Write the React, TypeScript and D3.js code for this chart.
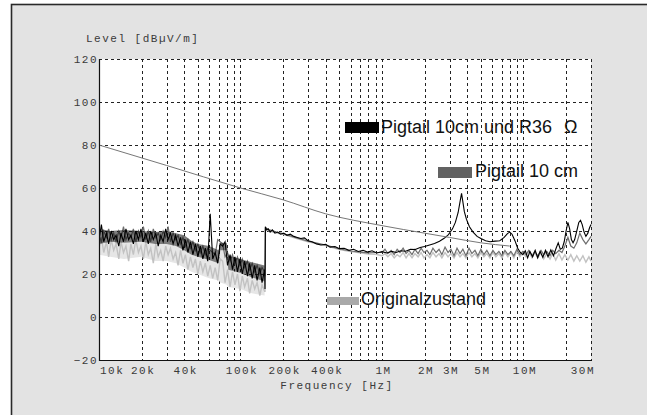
import React, { useEffect, useRef } from 'react';
import * as d3 from 'd3';

const W = 647;
const H = 415;

// frequencies in kHz, levels in dBµV/m
const yTicks = [-20, 0, 20, 40, 60, 80, 100, 120];
const xTickFreqs = [10, 20, 40, 100, 200, 400, 1000, 2000, 3000, 5000, 10000, 30000];
const xTickLabels = ['10k', '20k', '40k', '100k', '200k', '400k', '1M', '2M', '3M', '5M', '10M', '30M'];

// sweep points below 150 kHz (shared by the three measurements)
const lfFreq = [10, 10.4, 10.8, 11.3, 11.7, 12.2, 12.7, 13.2, 13.8, 14.3, 14.9, 15.5, 16.2, 16.8, 17.5, 18.2, 19, 19.8,
  20.6, 21.4, 22.3, 23.2, 24.2, 25.2, 26.2, 27.3, 28.4, 29.6, 30.8, 32, 33.4, 34.8, 36.2, 37.7, 39.2, 40.8, 42.5, 44.3,
  46.1, 48, 50, 52, 54.2, 56.4, 58.7, 61.1, 63.6, 66.2, 69, 71.8, 74.8, 77.8, 81, 84.4, 87.8, 91.4, 95.2, 99.1, 103, 107,
  112, 116, 121, 126, 131, 137, 142, 148];

const blackLF = [36, 43, 35, 39, 34, 40, 36, 38, 33, 39, 35, 41, 36, 38, 34, 40, 36, 41, 35, 39, 34, 40, 36, 39, 33, 38,
  35, 41, 36, 39, 34, 38, 33, 37, 31, 36, 30, 35, 29, 34, 28, 33, 27, 32, 26, 48, 27, 30, 25, 34, 33, 35, 24, 29, 22, 28,
  21, 27, 20, 26, 19, 25, 18, 24, 17, 23, 16, 22];
const darkLF = [38, 35, 40, 37, 41, 36, 39, 35, 40, 37, 42, 36, 39, 37, 41, 35, 40, 37, 42, 36, 40, 35, 41, 37, 39, 36,
  40, 37, 42, 35, 39, 36, 38, 34, 37, 33, 36, 32, 35, 31, 34, 30, 33, 29, 32, 31, 30, 29, 36, 35, 34, 28, 30, 26, 29, 25,
  28, 24, 27, 23, 26, 22, 25, 21, 24, 20, 23, 21];
const lightLF = [32, 37, 30, 35, 28, 36, 31, 34, 27, 35, 30, 33, 26, 34, 29, 36, 30, 33, 27, 35, 29, 32, 25, 34, 28, 31,
  26, 33, 29, 32, 27, 30, 24, 31, 25, 29, 22, 28, 23, 27, 20, 26, 21, 25, 19, 24, 18, 23, 17, 27, 26, 16, 22, 14, 21, 15,
  20, 12, 19, 14, 18, 11, 17, 13, 16, 10, 15, 12];

// noise envelopes below 150 kHz
const bandFreq = [10, 12, 15, 20, 25, 30, 35, 40, 45, 50, 60, 70, 72, 80, 82, 100, 120, 148];
const blackHigh = [41, 40, 40.5, 40, 39.5, 40, 39, 38, 35.5, 34, 33, 31, 34.5, 34.5, 28.5, 27, 25.5, 24];
const blackLow = [34, 35, 34.5, 35, 34, 34, 33, 31, 29, 28, 26.5, 25, 31, 31, 22, 20.5, 18.5, 16.5];
const lightLow = [29, 28, 27, 28, 26, 26, 25, 23, 21, 20, 18, 17, 16, 15, 14, 13, 11, 10];

// 150 kHz .. 1 MHz for the two grey measurements
const midFreq = [149, 150, 160, 180, 200, 250, 300, 400, 500, 600, 700, 800, 900];
const darkMid = [19, 41.5, 40.5, 39.5, 38.8, 36.8, 35.3, 33.5, 31.7, 30.7, 30.2, 29.8, 30];
const lightMid = [12, 41, 40, 39, 38.5, 36.5, 35, 33.2, 31.4, 30.4, 29.8, 29.3, 29.2];

// sweep points 1 MHz .. 30 MHz for the two grey measurements
const hfFreq = [1000, 1050, 1100, 1160, 1220, 1280, 1340, 1410, 1480, 1550, 1630, 1710, 1800, 1890, 1980, 2080, 2180,
  2290, 2410, 2530, 2650, 2790, 2930, 3070, 3230, 3390, 3560, 3730, 3920, 4120, 4320, 4540, 4760, 5000, 5250, 5510, 5790,
  6080, 6380, 6700, 7040, 7390, 7760, 8150, 8550, 8980, 9430, 9900, 10400, 10900, 11500, 12000, 12600, 13300, 13900,
  14600, 15400, 16100, 16900, 17800, 18700, 19600, 20600, 21600, 22700, 23800, 25000, 26300, 27600, 29000, 30000];
const darkHF = [30, 31.5, 29.5, 31, 29, 31.5, 30, 32, 29.5, 31, 29, 31.5, 29.5, 32, 30, 31, 29, 32, 30, 31.5, 29, 32.5,
  30, 31.5, 28.5, 32, 29.5, 31.5, 28.5, 32, 29.5, 31, 28.5, 31.5, 29, 31, 28.5, 31, 29, 30.5, 28.5, 31, 29, 30.5, 28.5,
  31.5, 29, 30.5, 29, 31, 28.5, 30.5, 28.5, 31, 29, 30.5, 28.5, 31, 29.5, 31, 30, 33, 37, 33, 32, 34.5, 39, 36, 34, 36,
  37.5];
const lightHF = [28.5, 29.5, 28, 29.5, 27.5, 29, 28, 30, 27.5, 29.5, 27.5, 29.5, 28, 30, 27.5, 29, 27.5, 30, 28, 29.5,
  27.5, 30, 28, 29.5, 27.5, 30, 28, 29.5, 27.5, 30, 28, 29.5, 27.5, 30, 28, 29.5, 27.5, 30, 28, 29.5, 27.5, 30, 28, 30,
  27.5, 30.5, 28, 30, 28, 30.5, 27.5, 30, 27.5, 30, 27, 29.5, 27, 29.5, 26.5, 29.5, 26.5, 29, 26.5, 29, 26, 28.5, 26,
  28.5, 25.5, 28, 26];

// black measurement above 148 kHz
const blackHFFreq = [149, 150, 153, 157, 162, 168, 175, 183, 192, 202, 213, 225, 238, 252, 267, 283, 300, 320, 345, 370,
  400, 430, 465, 500, 540, 585, 630, 680, 735, 790, 850, 920, 1000, 1080, 1170, 1260, 1360, 1470, 1590, 1720, 1860, 2000,
  2170, 2350, 2550, 2750, 2950, 3150, 3300, 3450, 3570, 3650, 3720, 3820, 3950, 4150, 4400, 4700, 5000, 5400, 5800, 6300,
  6800, 7300, 7700, 8000, 8300, 8700, 9100, 9500, 9900, 10300, 10700, 11100, 11600, 12100, 12600, 13100, 13700, 14300,
  14900, 15600, 16300, 17000, 17600, 18200, 18800, 19400, 20000, 20600, 21200, 21800, 22400, 23000, 23800, 24600, 25300,
  26000, 26800, 27600, 28500, 29300, 30000];
const blackHF = [13, 42, 40.5, 41, 39.5, 40.5, 39, 39.5, 38.5, 39, 38, 38.5, 37.5, 37, 36.5, 36.8, 35.5, 35, 34, 33.5,
  33.8, 32.5, 32.8, 31.8, 32, 31, 31.5, 30.5, 31, 30.2, 30.8, 29.8, 30.4, 29.8, 30.5, 30, 30.8, 30.6, 31.5, 31.4, 32.3,
  32.8, 33.5, 34.2, 35.2, 36.6, 38.3, 41, 44, 48.5, 54, 57.5, 54, 49, 45.5, 42, 39.5, 37.5, 36.5, 35.5, 35, 35.3, 35.5,
  37, 38.8, 39.5, 38.5, 35.5, 32, 30, 29, 30.8, 27.5, 30.5, 28, 31, 27.5, 30.5, 27.8, 31, 28, 31.2, 28.5, 32, 34.5, 31.5,
  32, 35, 40, 44, 41, 36, 34.5, 36, 40, 44, 45, 43, 39.5, 37.5, 39, 41.5, 43];

// limit line
const limitFreq = [10, 30, 100, 200, 400, 1000, 2000, 3000, 5000, 8000];
const limitLevel = [80, 70.5, 60, 54.5, 48, 42.5, 39, 37, 34.5, 33];

const legend = [
  { label: 'Pigtail 10cm und R36', extra: 'Ω', color: '#000', sx: 345, sy: 122, sw: 34, sh: 11, tx: 381, ty: 133 },
  { label: 'Pigtail 10 cm', extra: '', color: '#626262', sx: 438, sy: 167, sw: 34, sh: 11, tx: 475, ty: 177 },
  { label: 'Originalzustand', extra: '', color: '#a9a9a9', sx: 327, sy: 297, sw: 32, sh: 8, tx: 361, ty: 305 },
];

const zip = (f: number[], v: number[]) => f.map((d, i) => [d, v[i]] as [number, number]);

export default function App() {
  const ref = useRef<SVGSVGElement>(null);

  useEffect(() => {
    const svg = d3.select(ref.current);
    svg.selectAll('*').remove();

    const left = 99, right = 591, top = 59, bottom = 360;
    const x = d3.scaleLog().domain([10, 30000]).range([left, right]);
    const y = d3.scaleLinear().domain([-20, 120]).range([bottom, top]);
    const mono = "'Liberation Mono', 'DejaVu Sans Mono', monospace";

    svg.append('rect').attr('width', W).attr('height', H).attr('fill', '#fff');
    svg.append('rect')
      .attr('x', 11.5).attr('y', 4.5).attr('width', 700).attr('height', 500)
      .attr('fill', '#e3e3e3').attr('stroke', '#2a2a2a').attr('stroke-width', 1.6);

    svg.append('rect')
      .attr('x', left).attr('y', top).attr('width', right - left).attr('height', bottom - top)
      .attr('fill', '#fff');

    // grid
    const vLines: number[] = [];
    [10, 100, 1000, 10000].forEach(dec => {
      d3.range(1, 10).forEach(m => {
        const f = dec * m;
        if (f > 10 && f <= 30000) vLines.push(f);
      });
    });
    const grid = svg.append('g').attr('stroke', '#222').attr('stroke-width', 1).attr('stroke-dasharray', '3,3');
    grid.selectAll('line.v').data(vLines).join('line')
      .attr('x1', d => Math.round(x(d)) + 0.5).attr('x2', d => Math.round(x(d)) + 0.5)
      .attr('y1', top).attr('y2', bottom);
    grid.selectAll('line.h').data(yTicks.filter(t => t > -20)).join('line')
      .attr('x1', left).attr('x2', right)
      .attr('y1', d => Math.round(y(d)) + 0.5).attr('y2', d => Math.round(y(d)) + 0.5);

    // traces
    svg.append('clipPath').attr('id', 'plotclip').append('rect')
      .attr('x', left).attr('y', top).attr('width', right - left + 1).attr('height', bottom - top);
    const line = d3.line<[number, number]>().x(d => x(d[0])).y(d => y(d[1]));
    const traces = svg.append('g').attr('clip-path', 'url(#plotclip)').attr('fill', 'none');
    const bandIdx = bandFreq.map((_, i) => i);

    // light grey envelope under the black mass
    traces.append('path')
      .attr('d', d3.area<number>().x(i => x(bandFreq[i])).y0(i => y(lightLow[i])).y1(i => y(blackLow[i]))(bandIdx))
      .attr('fill', '#e6e6e6');

    const light = zip(lfFreq, lightLF).concat(zip(midFreq, lightMid), zip(hfFreq, lightHF));
    const dark = zip(lfFreq, darkLF).concat(zip(midFreq, darkMid), zip(hfFreq, darkHF));
    const black = zip(lfFreq, blackLF).concat(zip(blackHFFreq, blackHF));

    traces.append('path').attr('d', line(light)).attr('stroke', '#c2c2c2').attr('stroke-width', 1.4);
    traces.append('path').attr('d', line(dark)).attr('stroke', '#6e6e6e').attr('stroke-width', 1.2);

    // dense black noise mass
    traces.append('path')
      .attr('d', d3.area<number>().x(i => x(bandFreq[i])).y0(i => y(blackLow[i])).y1(i => y(blackHigh[i]))(bandIdx))
      .attr('fill', '#111').attr('fill-opacity', 0.55);

    traces.append('path').attr('d', line(black)).attr('stroke', '#000').attr('stroke-width', 1.1);

    const limitLine = d3.line<[number, number]>().x(d => x(d[0])).y(d => y(d[1])).curve(d3.curveMonotoneX);
    traces.append('path').attr('d', limitLine(zip(limitFreq, limitLevel)))
      .attr('stroke', '#777').attr('stroke-width', 1);

    // axes
    svg.append('line').attr('x1', left + 0.5).attr('x2', left + 0.5).attr('y1', top).attr('y2', bottom + 1)
      .attr('stroke', '#111').attr('stroke-width', 1.2);
    svg.append('line').attr('x1', left).attr('x2', right + 1).attr('y1', bottom + 0.5).attr('y2', bottom + 0.5)
      .attr('stroke', '#111').attr('stroke-width', 1.2);

    const txt = svg.append('g').attr('font-family', mono).attr('font-size', 11)
      .attr('letter-spacing', 1.5).attr('fill', '#3a3a3a');
    txt.selectAll('text.y').data(yTicks).join('text')
      .attr('x', left - 1).attr('y', d => y(d)).attr('dy', '0.35em').attr('text-anchor', 'end')
      .text(d => d === -20 ? '\u221220' : String(d));
    txt.selectAll('text.x').data(xTickFreqs).join('text')
      .attr('x', (d, i) => i === 0 ? left + 1 : i === xTickFreqs.length - 1 ? right + 4 : x(d) + 1.5)
      .attr('y', 374)
      .attr('text-anchor', (d, i) => i === 0 ? 'start' : i === xTickFreqs.length - 1 ? 'end' : 'middle')
      .text((d, i) => xTickLabels[i]);
    txt.append('text').attr('x', 86).attr('y', 42).text('Level [dBµV/m]');
    txt.append('text').attr('x', 337).attr('y', 389).attr('text-anchor', 'middle').text('Frequency [Hz]');

    // legend
    const lg = svg.append('g').attr('font-family', "'Liberation Sans', Arial, sans-serif")
      .attr('font-size', 18).attr('fill', '#111');
    legend.forEach(l => {
      lg.append('rect').attr('x', l.sx).attr('y', l.sy).attr('width', l.sw).attr('height', l.sh).attr('fill', l.color);
      lg.append('text').attr('x', l.tx).attr('y', l.ty).text(l.label);
      if (l.extra) lg.append('text').attr('x', 564).attr('y', l.ty).text(l.extra);
    });
  }, []);

  return <svg ref={ref} width={W} height={H} style={{ position: 'absolute', left: 0, top: 0 }} />;
}
